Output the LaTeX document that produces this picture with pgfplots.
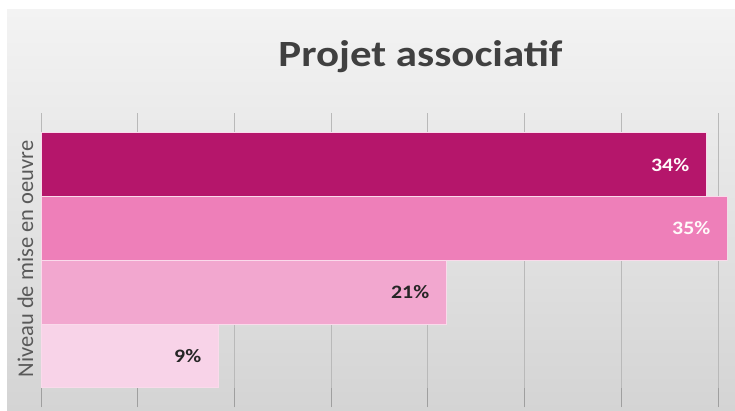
\documentclass[border=0pt]{standalone}
\usepackage{pgfplots}
\pgfplotsset{compat=1.18}
\usepackage{fontspec}
\setmainfont{Carlito}

\definecolor{bgtop}{RGB}{243,243,243}
\definecolor{bgbot}{RGB}{212,212,212}
\definecolor{titlec}{RGB}{64,64,64}
\definecolor{labc}{RGB}{89,89,89}
\definecolor{cA}{RGB}{181,22,107}
\definecolor{cB}{RGB}{238,127,185}
\definecolor{cC}{RGB}{242,167,207}
\definecolor{cD}{RGB}{248,211,232}
\definecolor{edge}{RGB}{250,218,235}
\definecolor{darktxt}{RGB}{38,38,38}

\begin{document}
\begin{tikzpicture}
\useasboundingbox (0,0) rectangle (735bp,411bp);
\shade[top color=bgtop, bottom color=bgbot] (7bp,0) rectangle (735bp,401bp);

\node[anchor=base, text=titlec, font=\bfseries\fontsize{37bp}{40bp}\selectfont]
  at (420.5bp,344bp) {\scalebox{1.16}[1]{Projet associatif}};
\node[rotate=90, anchor=base, text=labc, font=\fontsize{22.5bp}{24bp}\selectfont]
  at (33bp,152bp) {Niveau de mise en oeuvre};

\begin{axis}[
    at={(41bp,4bp)}, anchor=south west,
    scale only axis,
    width=686.6bp, height=294bp,
    xmin=0, xmax=35.5,
    ymin=-0.8, ymax=3.81,
    xbar, bar shift=0pt, bar width=1,
    axis line style={draw=none},
    xtick={0,5,...,35}, xticklabels={},
    ytick=\empty,
    xtick pos=bottom,
    tick align=inside,
    major tick length=19bp,
    xtick style={draw=gray!75, line width=0.8bp},
    xmajorgrids,
    grid style={draw=gray!55, line width=0.7bp},
    point meta=explicit symbolic,
    nodes near coords={\scalebox{1.15}[1]{\pgfplotspointmeta}},
    every node near coord/.append style={anchor=east, xshift=-13bp,
      font=\bfseries\fontsize{19bp}{21bp}\selectfont},
]
\addplot[fill=cD, draw=edge, line width=0.9bp,
  every node near coord/.append style={text=darktxt}]
  coordinates {(9.15,0) [9\%]};
\addplot[fill=cC, draw=edge, line width=0.9bp,
  every node near coord/.append style={text=darktxt}]
  coordinates {(20.94,1) [21\%]};
\addplot[fill=cB, draw=edge, line width=0.9bp,
  every node near coord/.append style={text=white!92!pink}]
  coordinates {(35.47,2) [35\%]};
\addplot[fill=cA, draw=edge, line width=0.9bp,
  every node near coord/.append style={text=white!92!pink}]
  coordinates {(34.38,3) [34\%]};
\end{axis}
\end{tikzpicture}
\end{document}
